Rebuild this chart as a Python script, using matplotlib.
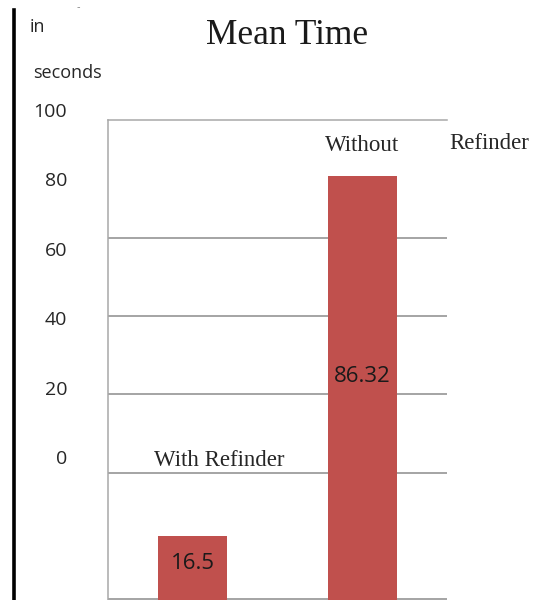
import matplotlib.pyplot as plt
import matplotlib.transforms as mtransforms

# data
categories = ["With Refinder", "Without Refinder"]
mean_times = [16.5, 86.32]
value_labels = ["16.5", "86.32"]
side_ticks = [0, 20, 40, 60, 80, 100]

# chart-internal reference lines (in bar units)
grid_values = [28.7, 44.03, 59.15, 74.28]
base_line = 4.27
y_top = 97.17
label_y = [11.2, 47.5]

bar_color = "#c0504d"
text_color = "#262626"
serif = ["Liberation Serif", "DejaVu Serif"]
sans = ["Open Sans", "DejaVu Sans"]

fig = plt.figure(figsize=(5.47, 6.0), dpi=100)

# main plot area (baseline sits below the cropped bottom edge)
ax = fig.add_axes([108 / 547, -21 / 600, 339 / 547, 501 / 600])
ax.bar(range(len(mean_times)), mean_times, width=0.41, color=bar_color, zorder=3)
ax.set_xlim(-0.5, 1.5)
ax.set_ylim(0, y_top)
for v in grid_values + [base_line]:
    ax.axhline(v, color="#8c8c8c", linewidth=1.1, zorder=2)
ax.set_xticks([])
ax.set_yticks([])
for side in ["right", "bottom"]:
    ax.spines[side].set_visible(False)
for side in ["left", "top"]:
    ax.spines[side].set_color("#a8a8a8")
    ax.spines[side].set_linewidth(1.1)

for i, (lab, y) in enumerate(zip(value_labels, label_y)):
    ax.text(i, y, lab, ha="center", va="center", fontsize=16,
            family=sans, color="#1a1a1a", zorder=4)

ax.text(0.157, 31.2, "With Refinder", ha="center", va="center",
        fontsize=16.5, family=serif, color=text_color)
without, refinder = categories[1].split(" ")
ax.text(1.0, 92.3, without, ha="center", va="center", fontsize=16.5,
        family=serif, color=text_color, clip_on=False)
ax.text(1.75, 92.7, refinder, ha="center", va="center", fontsize=16.5,
        family=serif, color=text_color, clip_on=False)

# side scale with the thick black line
ax_side = fig.add_axes([14 / 547, 0, 94 / 547, 590 / 600])
ax_side.set_ylim(-40.6, 129.4)
ax_side.set_xlim(0, 1)
ax_side.patch.set_visible(False)
ax_side.set_xticks([])
ax_side.set_yticks([])
for side in ["right", "top", "bottom"]:
    ax_side.spines[side].set_visible(False)
ax_side.spines["left"].set_color("black")
ax_side.spines["left"].set_linewidth(2.6)
trans = mtransforms.blended_transform_factory(ax_side.transAxes, ax_side.transData)
for t in side_ticks:
    ax_side.text(0.565, t, str(t), transform=trans, ha="right", va="center",
                 fontsize=14, family=sans, color=text_color)

fig.text(30 / 547, 1 - 27 / 600, "in", ha="left", va="center",
         fontsize=13, family=sans, color=text_color)
fig.text(33 / 547, 1 - 73 / 600, "seconds", ha="left", va="center",
         fontsize=13, family=sans, color=text_color)
fig.text(78 / 547, 1 - 7 / 600, "-", ha="center", va="center",
         fontsize=7, color="#888888")

fig.text(287 / 547, 1 - 35 / 600, "Mean Time", ha="center", va="center",
         fontsize=25.5, family=serif, color="#1a1a1a")

fig.savefig("out.png", dpi=100)
